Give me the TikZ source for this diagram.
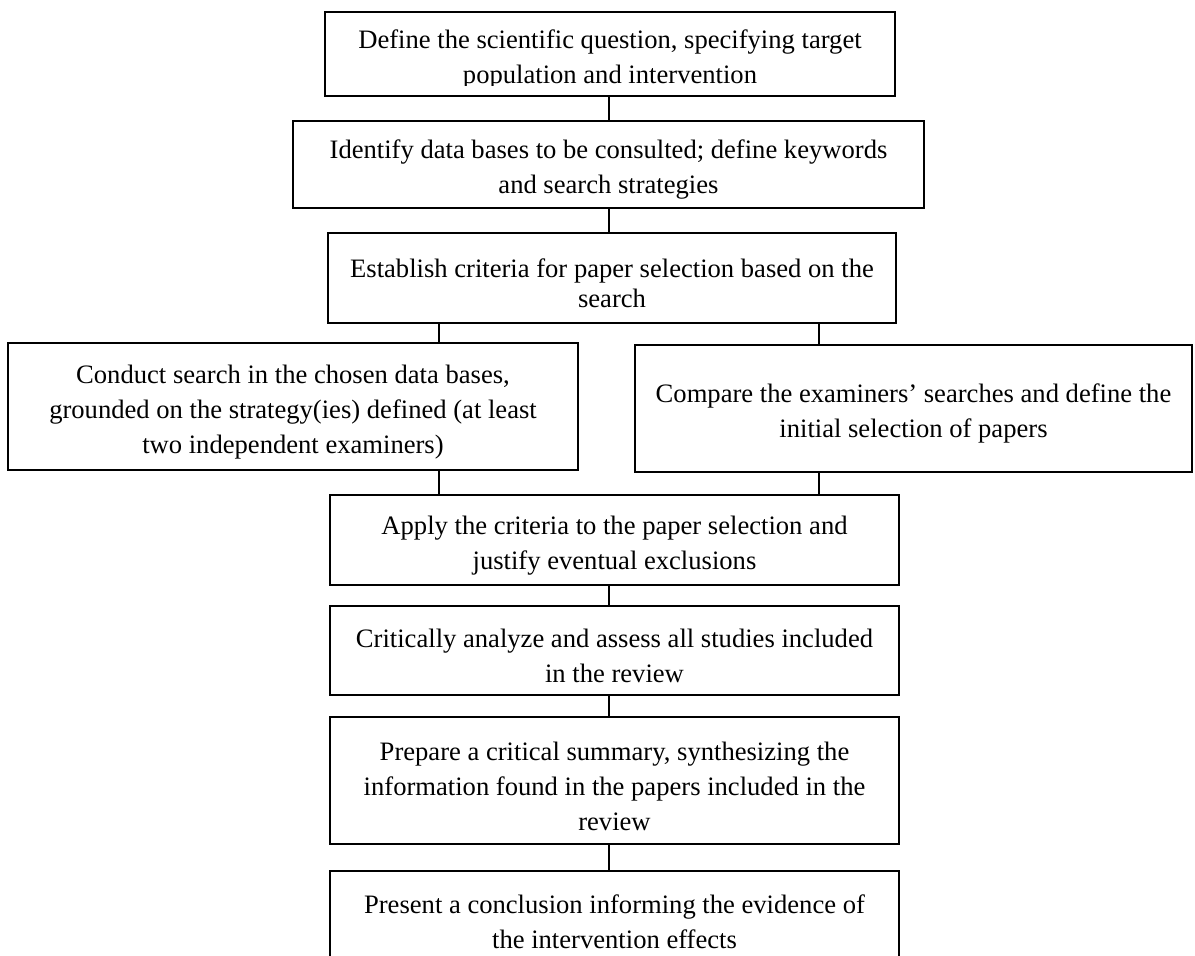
\documentclass[tikz,border=0pt]{standalone}
\usepackage{fontspec}
\setmainfont{Liberation Serif}
\usepackage{tikz}
\usetikzlibrary{positioning,calc}
\newcommand{\boxtop}{\rule{0pt}{14.7pt}}

\begin{document}
\begin{tikzpicture}[x=0.5pt, y=-0.5pt,
    stage/.style={draw, line width=1pt, align=center, inner sep=0pt, minimum width=284.5pt, minimum height=45pt,
        font=\fontsize{13.3}{17.5}\selectfont},
    tight/.style={font=\fontsize{13.3}{15}\selectfont},
    link/.style={line width=1pt}
]
\clip (0,0) rectangle (1195,955);
\fill[white] (0,0) rectangle (1195,955);

\node[stage, minimum width=285pt, minimum height=42pt] (Q) at (610,54)
    {\boxtop Define the scientific question, specifying target\\population and intervention};
\node[stage, minimum width=315.5pt, minimum height=43.5pt] (DB) at (608.5,164.5)
    {\boxtop Identify data bases to be consulted; define keywords\\and search strategies};
\node[stage, tight, minimum width=284pt] (Cr) at (612,278)
    {\boxtop Establish criteria for paper selection based on the\\search};
\node[stage, minimum width=285pt, minimum height=63.5pt] (Srch) at (293,406.5)
    {\boxtop Conduct search in the chosen data bases,\\grounded on the strategy(ies) defined (at least\\two independent examiners)};
\node[stage, minimum width=278.5pt, minimum height=63.5pt] (Cmp) at (913.5,408.5)
    {\boxtop Compare the examiners’ searches and define the\\initial selection of papers};
\node[stage] (Ap) at (614.5,540)
    {\boxtop Apply the criteria to the paper selection and\\justify eventual exclusions};
\node[stage, minimum height=44.5pt] (An) at (614.5,650.5)
    {\boxtop Critically analyze and assess all studies included\\in the review};
\node[stage, minimum height=63.5pt] (Sum) at (614.5,780.5)
    {\boxtop Prepare a critical summary, synthesizing the\\information found in the papers included in the\\review};
\node[stage] (Con) at (614.5,916)
    {\boxtop Present a conclusion informing the evidence of\\the intervention effects};

% second line of the first box is cut off at the bottom
\fill[white] ($(Q.south west)+(2,-2)$) rectangle ($(Q.south east)+(-2,-11)$);

\coordinate (M) at (609,0);
\coordinate (L) at (439,0);
\coordinate (R) at (819,0);

\draw[link] (Q.south -| M) -- (DB.north -| M);
\draw[link] (DB.south -| M) -- (Cr.north -| M);
\draw[link] (Cr.south -| L) -- (Srch.north -| L);
\draw[link] (Cr.south -| R) -- (Cmp.north -| R);
\draw[link] (Srch.south -| L) -- (Ap.north -| L);
\draw[link] (Cmp.south -| R) -- (Ap.north -| R);
\draw[link] (Ap.south -| M) -- (An.north -| M);
\draw[link] (An.south -| M) -- (Sum.north -| M);
\draw[link] (Sum.south -| M) -- (Con.north -| M);
\end{tikzpicture}
\end{document}
